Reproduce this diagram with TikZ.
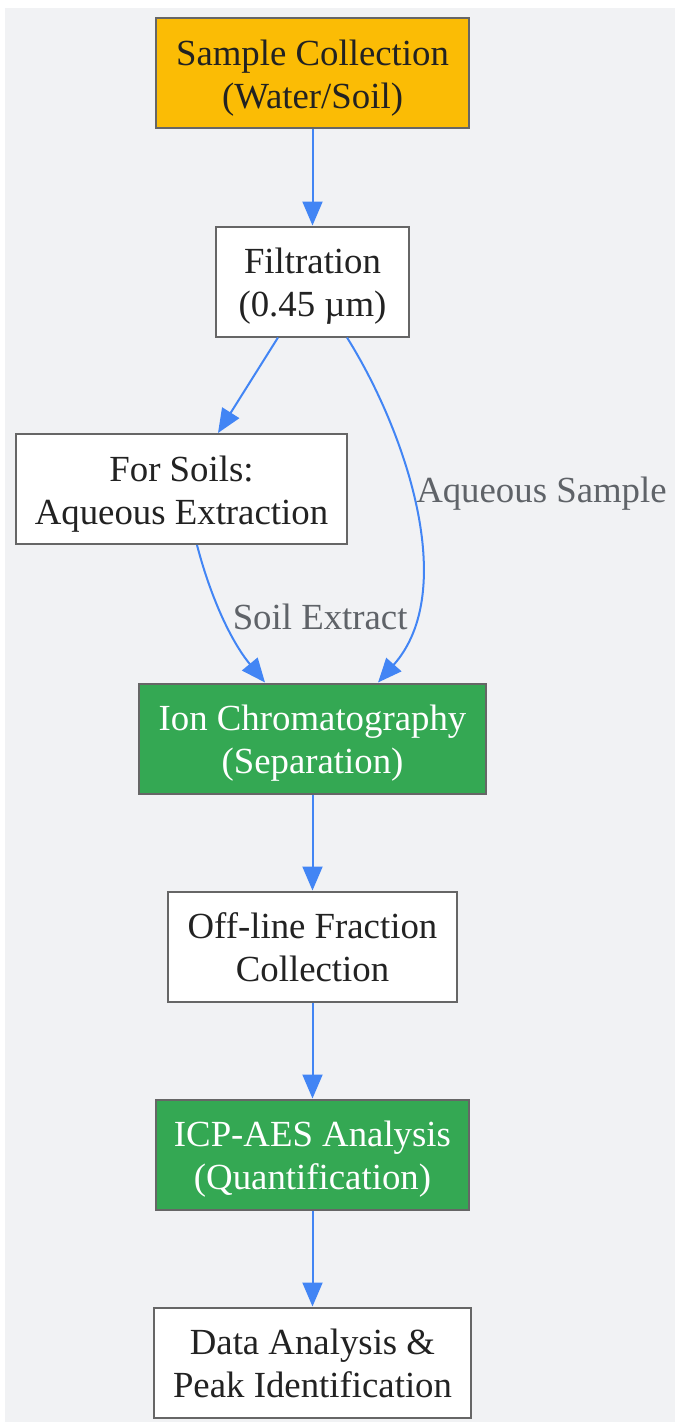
\documentclass[tikz,border=0pt]{standalone}
\usepackage{fontspec}
\setmainfont{Liberation Serif}
\usetikzlibrary{arrows.meta}
\definecolor{bg}{HTML}{F1F2F4}
\definecolor{edgec}{HTML}{4285F4}
\definecolor{bord}{HTML}{666666}
\definecolor{yellowN}{HTML}{FBBC05}
\definecolor{greenN}{HTML}{34A853}
\definecolor{lblc}{HTML}{5F6368}
\definecolor{txtc}{HTML}{222222}
\begin{document}
\begin{tikzpicture}[x=1pt,y=-1pt,
  box/.style={draw=bord, line width=2pt, fill=white, text=txtc, align=center, inner sep=0pt,
    minimum height=110pt, text height=80.6pt, text depth=10pt, font=\fontsize{36.8}{43.3}\selectfont},
  yellowbox/.style={box, fill=yellowN},
  greenbox/.style={box, fill=greenN, text=white},
  flow/.style={draw=edgec, line width=2pt, -{Triangle[length=24pt,width=20pt]}},
  elabel/.style={text=lblc, font=\fontsize{36.8}{43.3}\selectfont, inner sep=0pt}]
\useasboundingbox (0,0) rectangle (675,1422);
\fill[bg] (5,8) rectangle (675,1422);

\node[yellowbox, minimum width=313pt] (a) at (312.5,73) {Sample Collection\\(Water/Soil)};
\node[box, minimum width=193pt] (b) at (312.5,281.5) {Filtration\\(0.45 µm)};
\node[box, minimum width=331pt] (c) at (181.5,489) {For Soils:\\Aqueous Extraction};
\node[greenbox, minimum width=347pt] (d) at (312.5,738.5) {Ion Chromatography\\(Separation)};
\node[box, minimum width=289pt] (e) at (312.5,946.5) {Off-line Fraction\\Collection};
\node[greenbox, minimum width=313pt] (f) at (312.5,1154.5) {ICP-AES Analysis\\(Quantification)};
\node[box, minimum width=317pt] (g) at (312.5,1362.5) {Data Analysis \&\\Peak Identification};

\draw[flow] (a.south) -- (b.north);
\draw[flow] ([xshift=-34.5pt]b.south) -- ([xshift=36.5pt]c.north);
\draw[flow] ([xshift=34.5pt]b.south) .. controls (405,430) and (460,590) .. node[elabel, pos=0.45, anchor=west, xshift=4pt, yshift=-3pt] {Aqueous Sample} ([xshift=65.5pt]d.north);
\draw[flow] ([xshift=15.5pt]c.south) .. controls (210,595) and (230,640) .. node[elabel, pos=0.5, anchor=west, xshift=9pt] {Soil Extract} ([xshift=-47.5pt]d.north);
\draw[flow] (d.south) -- (e.north);
\draw[flow] (e.south) -- (f.north);
\draw[flow] (f.south) -- (g.north);
\end{tikzpicture}
\end{document}
